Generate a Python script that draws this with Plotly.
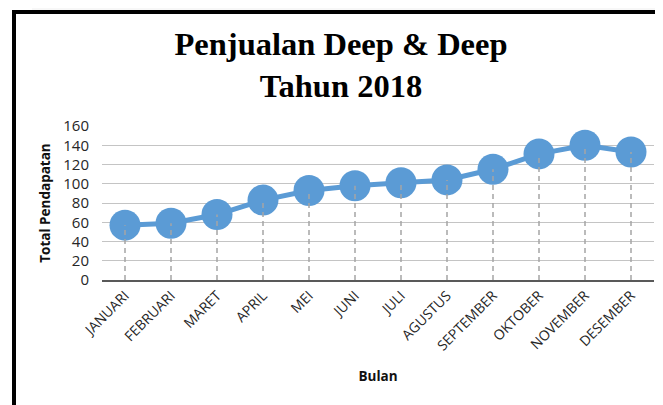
import plotly.graph_objects as go

months = ["JANUARI", "FEBRUARI", "MARET", "APRIL", "MEI", "JUNI", "JULI",
          "AGUSTUS", "SEPTEMBER", "OKTOBER", "NOVEMBER", "DESEMBER"]
pendapatan = [57, 59, 68, 83, 93, 98, 101, 104, 115, 131, 140, 133]
y_ticks = [0, 20, 40, 60, 80, 100, 120, 140, 160]

# page has an 8px body margin; the figure is sized to fill the rest of the window
OFF = 8
W, H = 663 - OFF, 405 - OFF
L, R, T, B = 102 - OFF, 9, 126 - OFF, 125

drop_x, drop_y = [], []
for m, v in zip(months, pendapatan):
    drop_x += [m, m, None]
    drop_y += [0, v, None]

fig = go.Figure()
fig.add_trace(go.Scatter(
    x=months, y=pendapatan, mode="lines+markers",
    line=dict(color="#5b9bd5", width=5),
    marker=dict(color="#5b9bd5", size=31),
    showlegend=False, hoverinfo="x+y",
))
fig.add_trace(go.Scatter(
    x=drop_x, y=drop_y, mode="lines",
    line=dict(color="#a5a5a5", width=1.5, dash="5px,4px"),
    showlegend=False, hoverinfo="skip",
))

def px_x(p):  # page pixel -> paper
    return (p - OFF - L) / (W - L - R)

def px_y(p):
    return (H - B - (p - OFF)) / (H - T - B)

shapes = [
    dict(type="rect", xref="paper", yref="paper", x0=px_x(32), x1=px_x(659),
         y0=px_y(10), y1=px_y(OFF), fillcolor="#f7f7f7", line=dict(width=0), layer="below"),
    dict(type="line", xref="paper", yref="paper", x0=px_x(14), x1=px_x(14),
         y0=px_y(10), y1=px_y(410), line=dict(color="black", width=4)),
    dict(type="line", xref="paper", yref="paper", x0=px_x(12), x1=px_x(663),
         y0=px_y(12), y1=px_y(12), line=dict(color="black", width=4)),
]

fig.update_layout(
    width=W, height=H,
    margin=dict(l=L, r=R, t=T, b=B),
    paper_bgcolor="white", plot_bgcolor="white",
    title=dict(
        text="Penjualan Deep & Deep<br>Tahun 2018",
        font=dict(family="Liberation Serif", size=32.5, color="black", weight="bold"),
        x=(341 - OFF) / W, xref="container", xanchor="center",
        y=1 - 47 / H, yref="container", yanchor="top",
    ),
    xaxis=dict(
        type="category", categoryorder="array", categoryarray=months,
        range=[-0.5, len(months) - 0.5],
        tickangle=-45, showgrid=False, ticks="",
        showline=True, linecolor="#595959", linewidth=2,
        tickfont=dict(family="Open Sans", size=14, color="#262626"),
        title=dict(text="Bulan", standoff=18,
                   font=dict(family="Open Sans", size=13.5, color="#111111", weight="bold")),
    ),
    yaxis=dict(
        range=[0, 160], tickvals=y_ticks, ticktext=[str(v) for v in y_ticks],
        showgrid=True, gridcolor="#c4c4c4", gridwidth=1.2,
        zeroline=False, showline=False, ticks="",
        ticklabelstandoff=12,
        tickfont=dict(family="Open Sans", size=15, color="#262626"),
        title=dict(text="Total Pendapatan", standoff=9,
                   font=dict(family="Open Sans", size=13.5, color="#111111", weight="bold")),
    ),
    shapes=shapes,
)

fig.write_html("out.html")
